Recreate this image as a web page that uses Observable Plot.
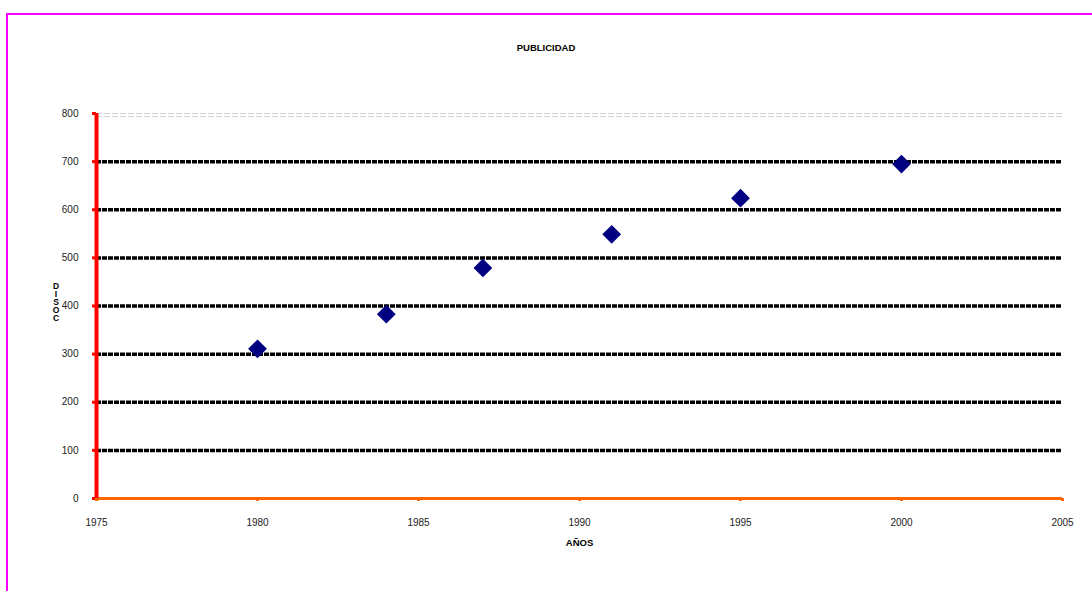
<!DOCTYPE html>
<html><head><meta charset="utf-8">
<script src="https://cdn.jsdelivr.net/npm/d3@7"></script>
<script src="https://cdn.jsdelivr.net/npm/@observablehq/plot@0.6"></script>
<style>
body{margin:0;background:#fff;width:1092px;height:591px;overflow:hidden;position:relative;font-family:"Liberation Sans",Arial,sans-serif;}
#frame{position:absolute;left:6px;top:13px;width:1200px;height:700px;border:2px solid #ff00ff;box-sizing:border-box;}
#title{position:absolute;left:0;top:42px;width:1092px;text-align:center;font-size:9.5px;font-weight:bold;color:#000;}
#chart{position:absolute;left:0;top:0;}
#ylab{position:absolute;left:51px;top:282px;font-size:8.5px;font-weight:bold;line-height:8px;width:10px;text-align:center;color:#000;}
</style></head>
<body>
<div id="frame"></div>
<div id="chart"></div>
<div id="title">PUBLICIDAD</div>
<div id="ylab">D<br>I<br>S<br>O<br>C</div>
<script>
const years = [1980, 1984, 1987, 1991, 1995, 2000];
const discos = [311, 383, 479, 549, 624, 695];
const yTicks = [0, 100, 200, 300, 400, 500, 600, 700, 800];
const xTicks = [1975, 1980, 1985, 1990, 1995, 2000, 2005];
const gridVals = [100, 200, 300, 400, 500, 600, 700];

const data = years.map((y, i) => ({year: y, value: discos[i]}));

const chart = Plot.plot({
  width: 1092, height: 591,
  marginLeft: 96, marginRight: 30, marginTop: 113, marginBottom: 93,
  style: {fontFamily: "'Liberation Sans', Arial, sans-serif", fontSize: "10px", color: "#222", background: "transparent"},
  x: {domain: [1975, 2005], ticks: xTicks, tickFormat: d => String(d), label: null},
  y: {domain: [0, 800], ticks: yTicks, label: null},
  marks: [
    Plot.ruleY([800], {stroke: "#d0d0d0", strokeWidth: 1, strokeDasharray: "6,2", dy: 0}),
    Plot.ruleY([800], {stroke: "#d0d0d0", strokeWidth: 1, strokeDasharray: "6,2", dy: 3}),
    Plot.ruleY(gridVals, {stroke: "#000", strokeWidth: 3.5, strokeDasharray: "5,1"}),
    Plot.ruleY([0], {stroke: "#ff6600", strokeWidth: 3}),
    Plot.ruleX([1975], {stroke: "#ff0000", strokeWidth: 4, y1: 0, y2: 800}),
    Plot.axisY({ticks: yTicks, tickSize: 4, stroke: "#ff0000", strokeWidth: 3, tickPadding: 14, tickFormat: d => String(d), fill: "#222"}),
    Plot.axisX({ticks: xTicks, tickSize: 3, stroke: "#ff6600", strokeWidth: 3, tickPadding: 17, tickFormat: d => String(d), fill: "#222"}),
    Plot.text(["AÑOS"], {frameAnchor: "bottom", dy: 47, fontWeight: "bold", fontSize: 9.5, fill: "#000"}),
    Plot.dot(data, {x: "year", y: "value", symbol: "diamond2", r: 7.5, fill: "#000080", stroke: "#000080"})
  ]
});
document.getElementById("chart").appendChild(chart);
</script>
</body></html>
